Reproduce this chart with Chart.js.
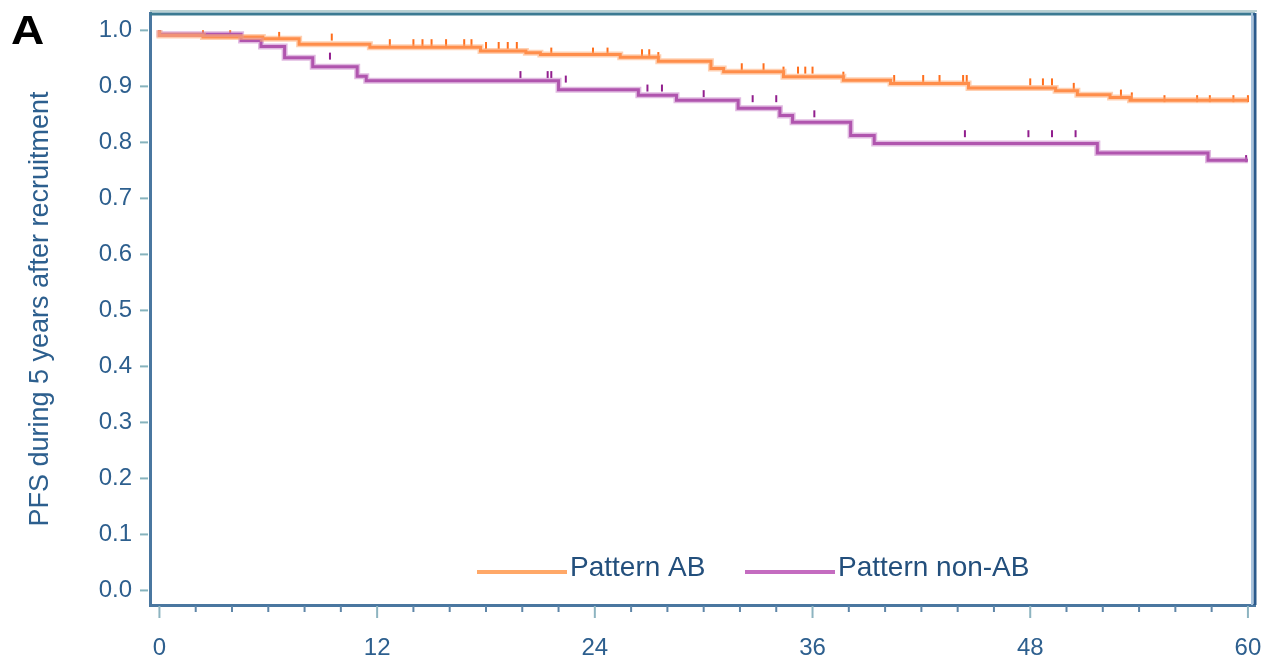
<!DOCTYPE html>
<html>
<head>
<meta charset="utf-8">
<script src="https://cdn.jsdelivr.net/npm/chart.js@4.4.1/dist/chart.umd.min.js"></script>
<style>
  html, body { margin: 0; padding: 0; background: #fff; }
  #wrap { width: 1270px; height: 656px; }
</style>
</head>
<body>
<div id="wrap"><canvas id="km" width="1270" height="656"></canvas></div>
<script>
// ---- datos ----
// Pattern AB (escalones Kaplan-Meier: mes, PFS tras el evento)
const abMonths = [0, 2.4, 5.7, 7.7, 11.6, 17.7, 20.2, 21.0, 25.4, 27.5, 30.4, 31.1, 34.4, 37.7, 40.3, 44.6, 49.4, 50.6, 52.4, 53.5, 55.0, 60.0];
const abPFS    = [1.0, 0.991, 0.988, 0.985, 0.975, 0.970, 0.963, 0.960, 0.957, 0.952, 0.945, 0.932, 0.926, 0.917, 0.911, 0.905, 0.897, 0.892, 0.885, 0.880, 0.875, 0.875];
// Pattern non-AB
const nonAbMonths = [0, 4.5, 5.6, 6.9, 8.45, 10.9, 11.4, 22.0, 26.4, 28.5, 31.9, 34.2, 34.9, 38.1, 39.4, 51.7, 57.8, 59.5, 60.0];
const nonAbPFS    = [1.0, 0.993, 0.982, 0.971, 0.951, 0.935, 0.918, 0.910, 0.894, 0.884, 0.875, 0.861, 0.848, 0.836, 0.8125, 0.798, 0.781, 0.768, 0.768];
// marcas de censura (meses)
const abCensor = [2.4, 3.9, 6.6, 9.5, 12.7, 14.0, 14.5, 15.0, 15.8, 16.8, 17.2, 18.0, 18.7, 19.2, 19.7, 21.6, 23.9, 24.7, 26.6, 27.0, 27.5, 32.1, 33.3, 34.4, 35.2, 35.6, 36.0, 37.7, 40.5, 42.1, 43.0, 44.3, 44.5, 48.0, 48.7, 49.2, 50.4, 53.0, 53.6, 55.4, 57.2, 57.9, 59.2, 60.0];
const nonAbCensor = [9.4, 19.9, 21.4, 21.6, 22.4, 26.9, 27.7, 30.0, 32.7, 34.0, 36.1, 44.4, 47.9, 49.2, 50.5, 59.9];

// ejes
const xLabelTicks = [0, 12, 24, 36, 48, 60];
const xMinorTicks = [2, 4, 6, 8, 10, 14, 16, 18, 20, 22, 26, 28, 30, 32, 34, 38, 40, 42, 44, 46, 50, 52, 54, 56, 58];
const yTicks = [0, 0.1, 0.2, 0.3, 0.4, 0.5, 0.6, 0.7, 0.8, 0.9, 1.0];

const seriesNames = ["Pattern AB", "Pattern non-AB"];
const axisTitle = "PFS during 5 years after recruitment";
const panelLetter = "A";

// ---- estilos ----
const ORANGE = "#ff6e1c";
const ORANGE_SOFT = "rgba(255,170,115,0.55)";
const PURPLE = "#921f8e";
const PURPLE_SOFT = "rgba(200,130,200,0.55)";
const AXIS = "#4a77a0";
const TEXT = "#2d5f8e";
const FONT = "'Liberation Sans', Arial, sans-serif";

function toPoints(xs, ys) {
  return xs.map((v, i) => ({ x: v, y: ys[i] }));
}
// valor de la curva escalonada en t
function stepValue(xs, ys, t) {
  let v = ys[0];
  for (let i = 0; i < xs.length; i++) {
    if (xs[i] <= t) v = ys[i];
  }
  return v;
}
// las marcas de censura quedan un poco por encima de la línea
function censorPoints(times, xs, ys) {
  return times.map(t => ({ x: t, y: stepValue(xs, ys, t) + 0.003 }));
}
// sin relleno automático de etiquetas: el área de trazado queda fija
function noPad(s) {
  s.paddingTop = 0; s.paddingBottom = 0; s.paddingLeft = 0; s.paddingRight = 0;
}

const lineBase = {
  type: "line",
  stepped: "after",
  pointRadius: 0,
  fill: false,
  tension: 0
};

const decor = {
  id: "decor",
  afterDraw(chart) {
    const { ctx, chartArea: a, scales: { x, y } } = chart;
    ctx.save();

    // marco superior y derecho
    ctx.lineWidth = 2;
    ctx.strokeStyle = "#b9d0d2";
    ctx.beginPath(); ctx.moveTo(a.left, a.top - 2); ctx.lineTo(a.right + 2, a.top - 2); ctx.stroke();
    ctx.strokeStyle = "#3b7a92";
    ctx.lineWidth = 3;
    ctx.beginPath(); ctx.moveTo(a.left, a.top + 1); ctx.lineTo(a.right, a.top + 1); ctx.stroke();
    ctx.lineWidth = 2;
    ctx.strokeStyle = "#a9c4de";
    ctx.beginPath(); ctx.moveTo(a.right - 3, a.top); ctx.lineTo(a.right - 3, a.bottom); ctx.stroke();
    ctx.strokeStyle = "#2a5a8c";
    ctx.lineWidth = 3;
    ctx.beginPath(); ctx.moveTo(a.right, a.top); ctx.lineTo(a.right, a.bottom); ctx.stroke();

    // ticks del eje x
    ctx.lineWidth = 2;
    xLabelTicks.forEach(v => {
      const px = x.getPixelForValue(v);
      ctx.strokeStyle = "#8db4c0";
      ctx.beginPath(); ctx.moveTo(px, a.bottom + 1); ctx.lineTo(px, a.bottom + 13); ctx.stroke();
    });
    xMinorTicks.forEach(v => {
      const px = x.getPixelForValue(v);
      ctx.strokeStyle = "#5f86a8";
      ctx.beginPath(); ctx.moveTo(px, a.bottom + 1); ctx.lineTo(px, a.bottom + 7); ctx.stroke();
    });
    // ticks del eje y
    yTicks.forEach(v => {
      const py = y.getPixelForValue(v);
      ctx.strokeStyle = "#86b3bd";
      ctx.beginPath(); ctx.moveTo(a.left - 10, py); ctx.lineTo(a.left - 2, py); ctx.stroke();
    });

    // leyenda
    const ly = a.bottom - 33;
    const items = [
      { name: seriesNames[0], color: "#ffa868", x0: a.left + 327 },
      { name: seriesNames[1], color: "#c46cc0", x0: a.left + 595 }
    ];
    ctx.font = "28px " + FONT;
    ctx.textBaseline = "alphabetic";
    ctx.textAlign = "left";
    items.forEach(it => {
      ctx.strokeStyle = it.color;
      ctx.lineWidth = 4;
      ctx.beginPath(); ctx.moveTo(it.x0, ly); ctx.lineTo(it.x0 + 90, ly); ctx.stroke();
      ctx.fillStyle = "#234f7c";
      ctx.fillText(it.name, it.x0 + 93, ly + 4);
    });

    // letra del panel
    ctx.fillStyle = "#000";
    ctx.font = "bold 40px " + FONT;
    ctx.textBaseline = "top";
    ctx.save();
    ctx.translate(11, 13);
    ctx.scale(1.15, 1);
    ctx.fillText(panelLetter, 0, 0);
    ctx.restore();

    ctx.restore();
  }
};

new Chart(document.getElementById("km").getContext("2d"), {
  data: {
    datasets: [
      { ...lineBase, data: toPoints(abMonths, abPFS), borderColor: ORANGE_SOFT, borderWidth: 6 },
      { ...lineBase, data: toPoints(nonAbMonths, nonAbPFS), borderColor: PURPLE_SOFT, borderWidth: 6 },
      { ...lineBase, label: seriesNames[0], data: toPoints(abMonths, abPFS), borderColor: ORANGE, borderWidth: 3 },
      { ...lineBase, label: seriesNames[1], data: toPoints(nonAbMonths, nonAbPFS), borderColor: PURPLE, borderWidth: 3 },
      {
        type: "scatter",
        data: censorPoints(abCensor, abMonths, abPFS),
        pointStyle: "line", rotation: 90, pointRadius: 3.5,
        borderColor: ORANGE, borderWidth: 2
      },
      {
        type: "scatter",
        data: censorPoints(nonAbCensor, nonAbMonths, nonAbPFS),
        pointStyle: "line", rotation: 90, pointRadius: 3.5,
        borderColor: PURPLE, borderWidth: 2
      }
    ]
  },
  options: {
    responsive: false,
    animation: false,
    layout: { padding: { left: 0, right: 15, top: 13, bottom: 0 } },
    plugins: {
      legend: { display: false },
      tooltip: { enabled: false }
    },
    scales: {
      x: {
        type: "linear",
        min: -0.52,
        max: 60.39,
        afterBuildTicks: s => { s.ticks = xLabelTicks.map(v => ({ value: v })); },
        afterFit: s => { s.height = 51; noPad(s); },
        grid: { display: false, drawTicks: false },
        border: { display: true, color: AXIS, width: 3 },
        ticks: {
          color: TEXT,
          padding: 29,
          maxRotation: 0,
          autoSkip: false,
          font: { family: FONT, size: 24 },
          callback: v => String(v)
        }
      },
      y: {
        type: "linear",
        min: -0.026,
        max: 1.031,
        afterBuildTicks: s => { s.ticks = yTicks.map(v => ({ value: v })); },
        afterFit: s => { s.width = 150; noPad(s); },
        grid: { display: false, drawTicks: false },
        border: { display: true, color: AXIS, width: 3 },
        ticks: {
          color: TEXT,
          padding: 18,
          autoSkip: false,
          font: { family: FONT, size: 24 },
          callback: v => Number(v).toFixed(1)
        },
        title: {
          display: true,
          text: axisTitle,
          color: TEXT,
          padding: { top: 24, bottom: 0 },
          font: { family: FONT, size: 27 }
        }
      }
    }
  },
  plugins: [decor]
});
</script>
</body>
</html>
